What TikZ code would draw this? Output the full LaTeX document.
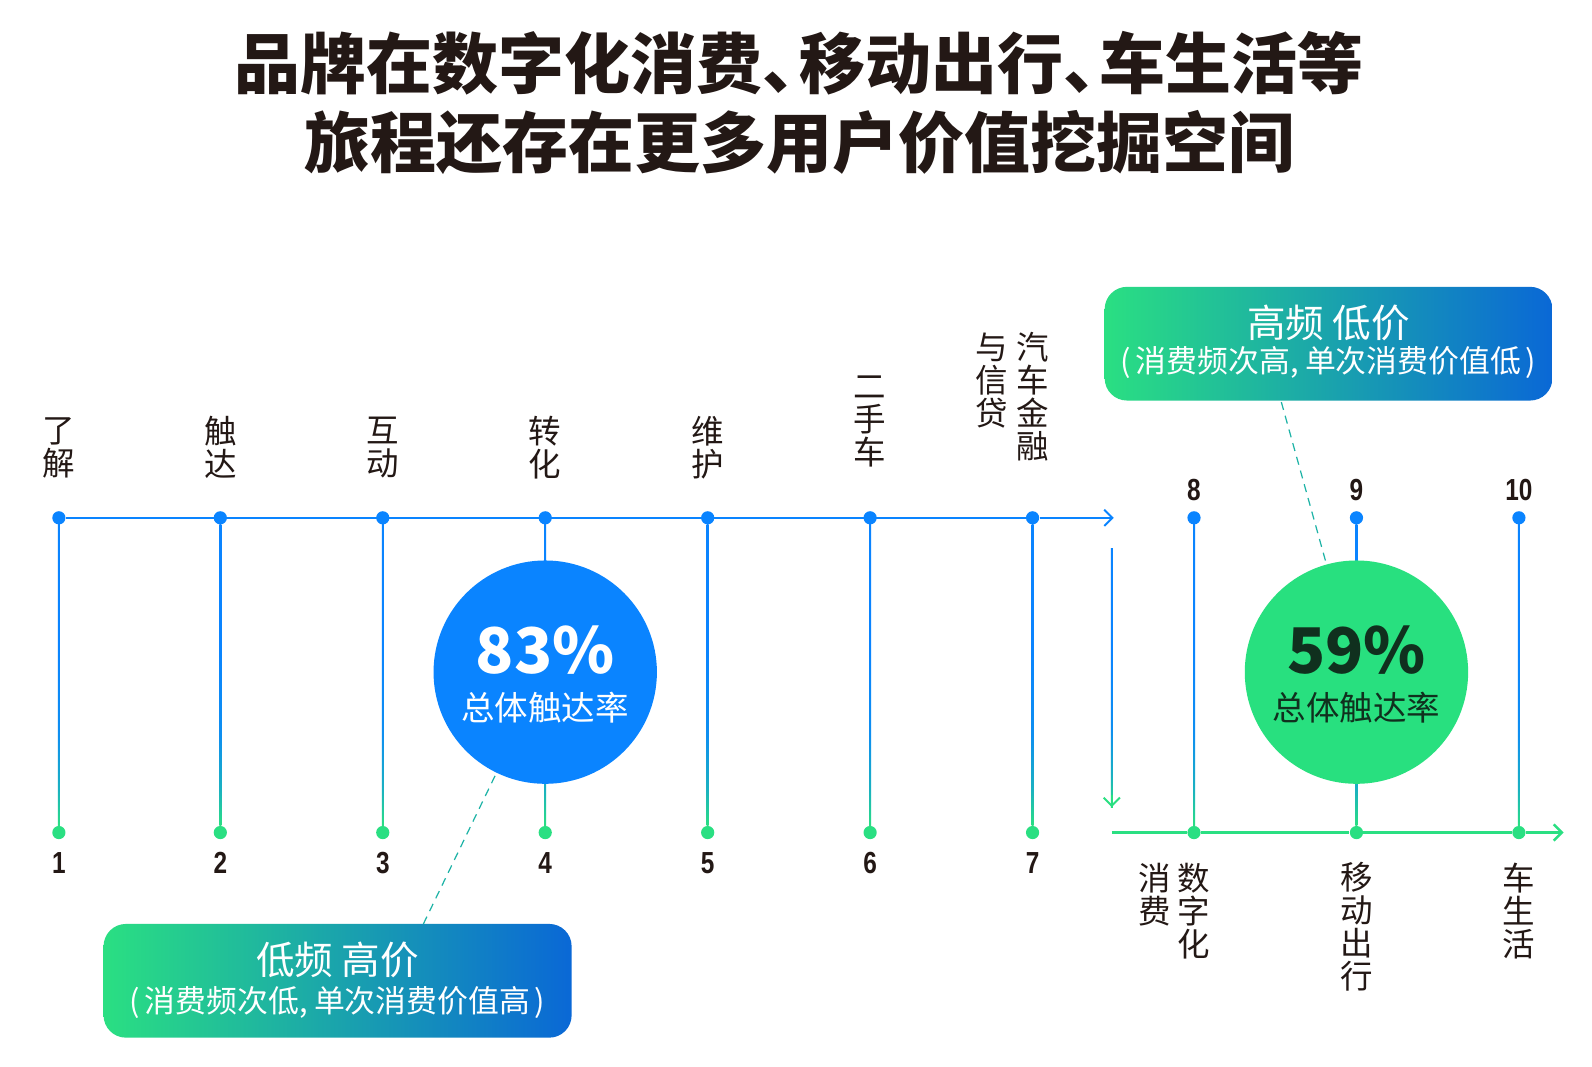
\documentclass[tikz,border=0pt]{standalone}
\usepackage{fontspec}
\usetikzlibrary{arrows.meta,calc}
\setmainfont{Noto Sans CJK SC}
\newfontfamily\numfont{Liberation Sans}[FakeStretch=0.8]

\definecolor{lineblue}{HTML}{0A84FF}
\definecolor{dotgreen}{HTML}{2ADF82}
\definecolor{ringgreen}{HTML}{28E07F}
\definecolor{boxblue}{HTML}{0A68D6}
\definecolor{inkdark}{HTML}{231815}
\definecolor{pctdark}{HTML}{10301E}
\definecolor{dashteal}{HTML}{1DB3A6}

\pgfdeclareverticalshading{stemfade}{100bp}{color(0bp)=(dotgreen); color(25bp)=(dotgreen); color(31bp)=(lineblue!50!dotgreen); color(40bp)=(lineblue!88!dotgreen); color(55bp)=(lineblue); color(100bp)=(lineblue)}

\tikzset{
	topdot/.style={circle, fill=lineblue, inner sep=0, minimum size=6.5pt},
	botdot/.style={circle, fill=dotgreen, inner sep=0, minimum size=6.5pt},
	stage/.style={text=inkdark, align=center, inner sep=0, font=\fontsize{16}{16.3}\selectfont},
	num/.style={text=inkdark, inner sep=0, font=\numfont\bfseries\fontsize{15}{15}\selectfont},
	ring/.style={circle, inner sep=0, minimum size=110pt},
	pct/.style={inner sep=0, font=\bfseries\fontsize{31}{31}\selectfont},
	ringcap/.style={inner sep=0, font=\fontsize{16.5}{16.5}\selectfont},
	tagbox/.style={rounded corners=11pt, left color=dotgreen, right color=boxblue, minimum height=56pt, inner sep=0},
	tagtitle/.style={text=white, inner sep=0, font=\fontsize{19}{19}\selectfont},
	tagsub/.style={text=white, inner sep=0, font=\fontsize{15.2}{15.2}\selectfont},
	dashline/.style={dashteal, line width=0.6pt, dash pattern=on 4pt off 3pt},
	barb/.style={-{Straight Barb[length=4pt,width=8pt]}},
	fade/.style={shading=stemfade},
}

\begin{document}
\begin{tikzpicture}[x=0.5pt, y=-0.5pt]
	\fill[white] (0,0) rectangle (1568,1050);
	\useasboundingbox (0,0) rectangle (1568,1050);

	% title
	\node[text=inkdark, inner sep=0, font=\bfseries\fontsize{32.5}{32.5}\selectfont] (title1) at (787,62) {品牌在数字化消费、\kern-.45em移动出行、\kern-.45em车生活等};
	\node[text=inkdark, inner sep=0, font=\bfseries\fontsize{32.5}{32.5}\selectfont] (title2) at (787,140) {旅程还存在更多用户价值挖掘空间};

	% dots
	\foreach \x [count=\i] in {58,217,377,537,697,857,1017,1176,1336,1496} {
		\node[topdot] (t\i) at (\x,510) {};
		\node[botdot] (b\i) at (\x,820) {};
		\shade[fade] ([xshift=-0.5pt]t\i.south) rectangle ([xshift=0.5pt]b\i.north);
	}
	\foreach \x [count=\i] in {58,217,377,537,697,857,1017}
		\node[num] (n\i) at (\x,850) {\i};
	\foreach \x [count=\i from 8] in {1176,1336,1496}
		\node[num] (n\i) at (\x,483) {\i};

	% stage labels
	\node[stage] (l1) at (58,441) {了\\解};
	\node[stage] (l2) at (217,441) {触\\达};
	\node[stage] (l3) at (377,441) {互\\动};
	\node[stage] (l4) at (537,441) {转\\化};
	\node[stage] (l5) at (697,441) {维\\护};
	\node[stage] (l6) at (857,415) {二\\手\\车};
	\node[stage] (l7a) at (1017,391) {汽\\车\\金\\融};
	\node[stage] (l7b) at (977,375) {与\\信\\贷};
	\node[stage] (l8a) at (1176,897) {数\\字\\化};
	\node[stage] (l8b) at (1137,881) {消\\费};
	\node[stage] (l9) at (1336,913) {移\\动\\出\\行};
	\node[stage] (l10) at (1496,897) {车\\生\\活};

	% axes
	\coordinate (ta) at (1097,510);
	\draw[lineblue, line width=1pt] (t1) -- (t7);
	\draw[lineblue, line width=1pt, barb] (t7) -- (ta);
	\coordinate (vs) at (1095,540);
	\coordinate (ve) at (1095,795);
	\shade[fade] ([xshift=-0.5pt]vs) rectangle ([xshift=0.5pt]ve);
	\draw[dotgreen, line width=1pt, barb] ($(ve)+(0,-12)$) -- (ve);
	\coordinate (gs) at (1095,820);
	\coordinate (ge) at (1540,820);
	\draw[dotgreen, line width=1.2pt, barb] (gs) -- (b8) -- (b9) -- (b10) -- (ge);

	% rings
	\node[ring, fill=lineblue] (c1) at (537,662) {};
	\node[pct, text=white] at ($(c1)+(0,-22)$) {83\%};
	\node[ringcap, text=white] at ($(c1)+(0,35)$) {总体触达率};
	\node[ring, fill=ringgreen] (c2) at (1336,662) {};
	\node[pct, text=pctdark] at ($(c2)+(0,-22)$) {59\%};
	\node[ringcap, text=pctdark] at ($(c2)+(0,35)$) {总体触达率};

	% tags
	\node[tagbox, minimum width=230.5pt] (tag1) at (332.5,966) {};
	\node[tagtitle] at ($(tag1)+(0,-21)$) {低频 高价};
	\node[tagsub] at ($(tag1)+(0,21)$) {(\kern.15em消费频次低,\kern.2em单次消费价值高\kern.15em)};
	\node[tagbox, minimum width=220.5pt] (tag2) at (1308.5,338.5) {};
	\node[tagtitle] at ($(tag2)+(0,-20)$) {高频 低价};
	\node[tagsub] at ($(tag2)+(0,19)$) {(\kern.15em消费频次高,\kern.2em单次消费价值低\kern.15em)};
	\coordinate (d1) at (417,910);
	\coordinate (d2) at (1262,396);
	\draw[dashline] (d1) -- (c1);
	\draw[dashline] (d2) -- (c2);
\end{tikzpicture}
\end{document}
